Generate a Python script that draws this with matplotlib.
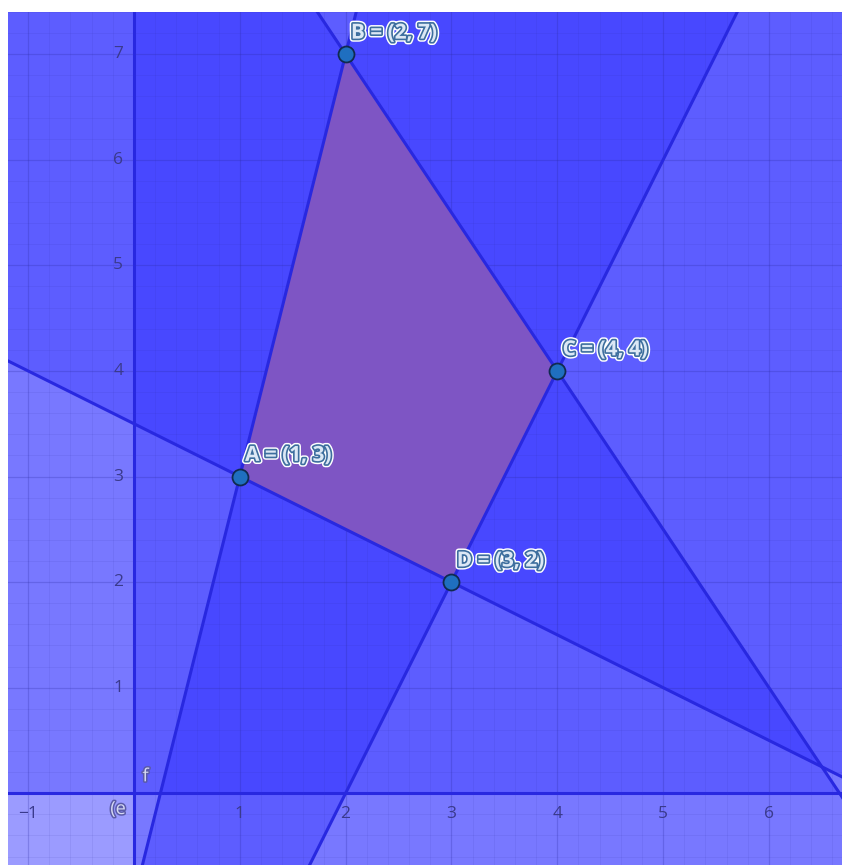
import numpy as np
import matplotlib
matplotlib.use('Agg')
import matplotlib.pyplot as plt
import matplotlib.patheffects as pe

# Corner points of the feasible region
point_names = ['A', 'B', 'C', 'D']
point_x = [1, 2, 4, 3]
point_y = [3, 7, 4, 2]

# Boundary lines y = m*x + b, with the side that is shaded
line_slopes = [4, -1.5, 2, -0.5]
line_intercepts = [-1, 10, -4, 3.5]
line_sides = ['below', 'below', 'above', 'above']

# Axis tick labels
x_ticks = [-1, 1, 2, 3, 4, 5, 6]
y_ticks = [1, 2, 3, 4, 5, 6, 7]

x_min, x_max = -1.19, 6.69
y_min, y_max = -0.68, 7.40

fig = plt.figure(figsize=(8.42, 8.65), dpi=100)
ax = fig.add_axes([8 / 842, 0, 834 / 842, 853 / 865])
ax.set_xlim(x_min, x_max)
ax.set_ylim(y_min, y_max)
ax.set_facecolor('white')
for s in ax.spines.values():
    s.set_visible(False)
ax.set_xticks([])
ax.set_yticks([])

shade = (0, 0, 1)
shade_alpha = 0.22
line_col = '#2828e0'

# Half-plane shading, one layer per inequality
xs = np.array([x_min - 5, x_max + 5])
for m, b, side in zip(line_slopes, line_intercepts, line_sides):
    ys = m * xs + b
    if side == 'below':
        ax.fill_between(xs, -100, ys, color=shade, alpha=shade_alpha, lw=0, zorder=1)
    else:
        ax.fill_between(xs, ys, 100, color=shade, alpha=shade_alpha, lw=0, zorder=1)
# x >= 0 and y >= 0
ax.axvspan(0, 100, color=shade, alpha=shade_alpha, lw=0, zorder=1)
ax.axhspan(0, 100, color=shade, alpha=shade_alpha, lw=0, zorder=1)

# Grid
for gx in np.arange(-1.2, 6.81, 0.2):
    major = abs(gx - round(gx)) < 1e-6
    ax.axvline(gx, color='#2a2aa0', alpha=0.25 if major else 0.1, lw=0.9 if major else 0.6, zorder=2)
for gy in np.arange(-0.6, 7.41, 0.2):
    major = abs(gy - round(gy)) < 1e-6
    ax.axhline(gy, color='#2a2aa0', alpha=0.25 if major else 0.1, lw=0.9 if major else 0.6, zorder=2)

# Feasible polygon
ax.fill(point_x, point_y, color='#7e55c4', alpha=1, lw=1.0, ec='#4a3fd0', zorder=3)

# Boundary lines
for m, b in zip(line_slopes, line_intercepts):
    ax.plot(xs, m * xs + b, color=line_col, lw=2.2, zorder=4)
ax.axvline(0, color=line_col, lw=2.2, zorder=4)
ax.axhline(0, color=line_col, lw=2.2, zorder=4)

# Tick labels
tick_col = '#3a3a8c'
for t in x_ticks:
    ax.text(t, -0.2, str(t).replace('-', '\u2212'), ha='center', va='center',
            fontsize=12.5, color=tick_col, family='Open Sans', zorder=5)
for t in y_ticks:
    ax.text(-0.1, t, str(t), ha='right', va='center',
            fontsize=12.5, color=tick_col, family='Open Sans', zorder=5)

# Points and labels
label_fx = [pe.Stroke(linewidth=4.5, foreground='white'),
            pe.Stroke(linewidth=2.4, foreground='#3d6e9e'),
            pe.Normal()]
ax.plot(point_x, point_y, 'o', ms=11.5, mfc='#1f6fc0', mec='#102a50', mew=1.3, zorder=6)
for name, px, py in zip(point_names, point_x, point_y):
    ax.text(px + 0.05, py + 0.2, f'{name} = ({px}, {py})', ha='left', va='center',
            fontsize=15, color='#dce8f5', family='Open Sans', fontweight='bold',
            path_effects=label_fx, zorder=7)

# Line labels of the axes
small_fx = [pe.Stroke(linewidth=2.2, foreground='#5a5aa8'), pe.Normal()]
ax.text(0.11, 0.16, 'f', ha='center', va='center', fontsize=13, color='#d6d9f2',
        family='Open Sans', path_effects=small_fx, zorder=7)
ax.text(-0.15, -0.15, '(e', ha='center', va='center', fontsize=13, color='#d6d9f2',
        family='Open Sans', path_effects=small_fx, zorder=7)

fig.savefig('out.png', dpi=100, facecolor='white')
